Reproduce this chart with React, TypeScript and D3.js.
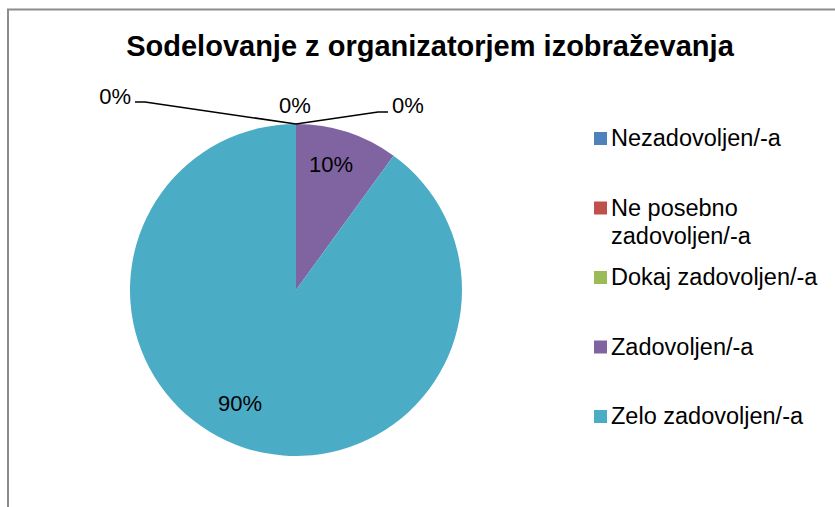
import React, { useEffect, useRef } from 'react';
import * as d3 from 'd3';

const categories = ['Nezadovoljen/-a', 'Ne posebno zadovoljen/-a', 'Dokaj zadovoljen/-a', 'Zadovoljen/-a', 'Zelo zadovoljen/-a'];
const values = [0, 0, 0, 10, 90];
const colors = ['#4f81bd', '#c0504d', '#9bbb59', '#8064a2', '#4bacc6'];
const legendLines = [['Nezadovoljen/-a'], ['Ne posebno', 'zadovoljen/-a'], ['Dokaj zadovoljen/-a'], ['Zadovoljen/-a'], ['Zelo zadovoljen/-a']];
const title = 'Sodelovanje z organizatorjem izobraževanja';

const App = () => {
    const svgRef = useRef<SVGSVGElement>(null);

    useEffect(() => {
        const width = 835,
              height = 507,
              radius = 166,
              center = {x: 296, y: 290},
              font = 'Arial, "Liberation Sans", sans-serif';

        const svg = d3.select(svgRef.current)
            .attr('width', width)
            .attr('height', height);
        svg.selectAll('*').remove();

        // chart frame (cut off on right/bottom)
        svg.append('rect')
            .attr('x', 8).attr('y', 9.5)
            .attr('width', width + 20).attr('height', height + 20)
            .attr('fill', '#fff')
            .attr('stroke', '#8c8c8c')
            .attr('stroke-width', 2);

        svg.append('text')
            .attr('x', 430).attr('y', 56)
            .attr('text-anchor', 'middle')
            .style('font-family', font)
            .style('font-size', '29px')
            .style('font-weight', 'bold')
            .text(title);

        const pie = d3.pie<number>().sort(null).value(d => d);
        const arcs = pie(values);
        const arc = d3.arc<d3.PieArcDatum<number>>().innerRadius(0).outerRadius(radius);

        const g = svg.append('g').attr('transform', `translate(${center.x},${center.y})`);

        g.selectAll('path')
            .data(arcs.filter(d => d.value > 0))
            .enter()
            .append('path')
            .attr('d', arc)
            .attr('fill', d => colors[d.index]);

        // inside labels for non-zero slices
        const labelArc = d3.arc<d3.PieArcDatum<number>>().innerRadius(radius * 0.78).outerRadius(radius * 0.78);
        const labelShift: Record<number, [number, number]> = {3: [-5, -3], 4: [-16, -10]};

        arcs.filter(d => d.value > 0).forEach(d => {
            const [cx, cy] = labelArc.centroid(d);
            const [sx, sy] = labelShift[d.index] || [0, 0];
            g.append('text')
                .attr('x', cx + sx)
                .attr('y', cy + sy + 8)
                .attr('text-anchor', 'middle')
                .style('font-family', font)
                .style('font-size', '22px')
                .attr('fill', '#000')
                .text(`${values[d.index]}%`);
        });

        // zero slices: labels outside, leader lines from the top of the pie
        const top = {x: 0, y: -radius};
        const zeroLabels = [
            {bend: [-151, -22], end: [-161, -22], anchor: 'end', tx: -165, ty: -186},
            {bend: null, end: null, anchor: 'middle', tx: -1, ty: -177},
            {bend: [82, -12], end: [92, -12], anchor: 'start', tx: 96, ty: -177}
        ];

        arcs.filter(d => d.value === 0).forEach((d, i) => {
            const z = zeroLabels[i];
            if (z.bend && z.end) {
                const pts: [number, number][] = [
                    [top.x, top.y],
                    [top.x + z.bend[0], top.y + z.bend[1]],
                    [top.x + z.end[0], top.y + z.end[1]]
                ];
                g.append('path')
                    .attr('d', d3.line()(pts))
                    .attr('fill', 'none')
                    .attr('stroke', '#000')
                    .attr('stroke-width', 1.5);
            }
            g.append('text')
                .attr('x', z.tx)
                .attr('y', z.ty)
                .attr('text-anchor', z.anchor)
                .style('font-family', font)
                .style('font-size', '22px')
                .attr('fill', '#000')
                .text(`${values[d.index]}%`);
        });

        // legend
        const legendY = d3.scalePoint<string>().domain(categories).range([138.5, 416.5]);
        const legend = svg.append('g');
        categories.forEach((c, i) => {
            const lines = legendLines[i];
            const yc = legendY(c)!;
            legend.append('rect')
                .attr('x', 594).attr('y', yc - 6.5)
                .attr('width', 13).attr('height', 13)
                .attr('fill', colors[i]);
            lines.forEach((l, j) => {
                legend.append('text')
                    .attr('x', 611)
                    .attr('y', yc + 7.5 + j * 28)
                    .style('font-family', font)
                    .style('font-size', '23.5px')
                    .attr('fill', '#000')
                    .text(l);
            });
        });
    }, []);

    return <svg ref={svgRef} style={{position: 'absolute', left: 0, top: 0}}></svg>;
};

export default App;
